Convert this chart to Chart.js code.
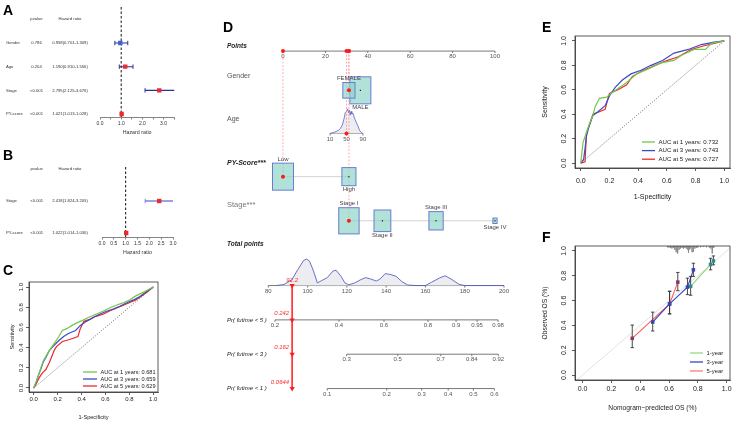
<!DOCTYPE html>
<html>
<head>
<meta charset="utf-8">
<title>Nomogram figure</title>
<script src="https://cdn.jsdelivr.net/npm/chart.js@4.4.1/dist/chart.umd.min.js"></script>
<style>
  body { margin: 0; background: #fff; }
  #fig { position: relative; width: 735px; height: 421px; overflow: hidden; background: #fff;
         font-family: "Liberation Sans", Arial, sans-serif; }
  #fig canvas { position: absolute; }
  .tag { position: absolute; font-size: 14px; line-height: 14px; font-weight: bold; color: #000; }
</style>
</head>
<body>
<div id="fig">
  <canvas id="cA" width="200" height="140" style="left:0;top:0"></canvas>
  <canvas id="cB" width="200" height="120" style="left:0;top:140px"></canvas>
  <canvas id="cC" width="175" height="159" style="left:0;top:262px"></canvas>
  <canvas id="cD" width="330" height="421" style="left:200px;top:0"></canvas>
  <canvas id="cE" width="200" height="185" style="left:535px;top:25px"></canvas>
  <canvas id="cF" width="200" height="186" style="left:535px;top:235px"></canvas>
  <div class="tag" style="left:3px;top:3px">A</div>
  <div class="tag" style="left:3px;top:148px">B</div>
  <div class="tag" style="left:3px;top:263px">C</div>
  <div class="tag" style="left:223px;top:20px">D</div>
  <div class="tag" style="left:542px;top:20px">E</div>
  <div class="tag" style="left:542px;top:230px">F</div>
</div>
<script>
// ---------- datos: panel A (Cox univariante) ----------
const aVars = ['Gender', 'Age', 'Stage', 'PY-score'];
const aPval = ['0.786', '0.204', '<0.001', '<0.001'];
const aHR = [0.958, 1.190, 2.795, 1.021];
const aLo = [0.701, 0.910, 2.125, 1.013];
const aHi = [1.309, 1.556, 3.676, 1.028];
const aTicks = [0, 0.5, 1, 1.5, 2, 2.5, 3, 3.5];
const aTickLabels = ['0.0', '', '1.0', '', '2.0', '', '3.0', ''];

// ---------- datos: panel B (Cox multivariante) ----------
const bVars = ['Stage', 'PY-score'];
const bPval = ['<0.001', '<0.001'];
const bHR = [2.418, 1.022];
const bLo = [1.824, 1.014];
const bHi = [3.205, 1.030];
const bTicks = [0, 0.5, 1, 1.5, 2, 2.5, 3];
const bTickLabels = ['0.0', '0.5', '1.0', '1.5', '2.0', '2.5', '3.0'];

// ---------- datos: panel C (ROC, entrenamiento) ----------
const cX1 = [0, 0.02, 0.04, 0.06, 0.08, 0.10, 0.13, 0.17, 0.21, 0.24, 0.28, 0.32, 0.37, 0.41, 0.46, 0.52, 0.58, 0.63, 0.69, 0.74, 0.80, 0.85, 0.92, 1];
const cY1 = [0, 0.06, 0.13, 0.20, 0.27, 0.31, 0.37, 0.44, 0.51, 0.57, 0.59, 0.62, 0.65, 0.67, 0.70, 0.73, 0.76, 0.79, 0.82, 0.84, 0.87, 0.91, 0.95, 1];
const cX3 = [0, 0.02, 0.04, 0.06, 0.08, 0.10, 0.13, 0.16, 0.21, 0.25, 0.29, 0.35, 0.39, 0.44, 0.50, 0.55, 0.61, 0.66, 0.72, 0.77, 0.83, 0.88, 0.94, 1];
const cY3 = [0, 0.06, 0.13, 0.19, 0.26, 0.30, 0.37, 0.41, 0.47, 0.51, 0.54, 0.57, 0.62, 0.66, 0.70, 0.73, 0.76, 0.78, 0.81, 0.84, 0.87, 0.90, 0.95, 1];
const cX5 = [0, 0.02, 0.04, 0.06, 0.08, 0.10, 0.13, 0.15, 0.17, 0.19, 0.24, 0.30, 0.37, 0.39, 0.42, 0.47, 0.52, 0.58, 0.63, 0.71, 0.79, 0.85, 0.90, 0.95, 1];
const cY5 = [0, 0.04, 0.09, 0.13, 0.16, 0.18, 0.25, 0.31, 0.37, 0.41, 0.46, 0.48, 0.51, 0.59, 0.66, 0.68, 0.71, 0.73, 0.76, 0.80, 0.84, 0.87, 0.91, 0.95, 1];
const cAuc = [0.681, 0.659, 0.629];

// ---------- datos: panel E (ROC, validación) ----------
const eX1 = [0, 0.016, 0.04, 0.06, 0.085, 0.10, 0.13, 0.18, 0.21, 0.26, 0.32, 0.39, 0.47, 0.56, 0.65, 0.70, 0.79, 0.87, 0.91, 1];
const eY1 = [0, 0.17, 0.25, 0.32, 0.39, 0.46, 0.53, 0.54, 0.57, 0.61, 0.66, 0.73, 0.77, 0.82, 0.84, 0.88, 0.93, 0.93, 0.98, 1];
const eX3 = [0, 0.02, 0.03, 0.04, 0.06, 0.085, 0.12, 0.17, 0.20, 0.24, 0.29, 0.35, 0.42, 0.49, 0.57, 0.65, 0.75, 0.84, 0.93, 1];
const eY3 = [0, 0.03, 0.12, 0.22, 0.31, 0.39, 0.42, 0.47, 0.55, 0.62, 0.68, 0.73, 0.76, 0.80, 0.84, 0.90, 0.93, 0.97, 0.99, 1];
const eX5 = [0, 0.03, 0.04, 0.06, 0.085, 0.13, 0.17, 0.19, 0.20, 0.26, 0.32, 0.36, 0.42, 0.50, 0.58, 0.68, 0.77, 0.86, 0.93, 1];
const eY5 = [0, 0.01, 0.25, 0.31, 0.40, 0.42, 0.44, 0.53, 0.57, 0.60, 0.64, 0.71, 0.75, 0.79, 0.83, 0.87, 0.93, 0.96, 0.98, 1];
const eAuc = [0.732, 0.743, 0.727];

const rocTicks = [0, 0.2, 0.4, 0.6, 0.8, 1];
const rocTickLabels = ['0.0', '0.2', '0.4', '0.6', '0.8', '1.0'];

// ---------- datos: panel F (calibración) ----------
const fPred1 = [0.750, 0.888, 0.908];
const fObs1 = [0.715, 0.891, 0.920];
const fLo1 = [0.643, 0.848, 0.888];
const fHi1 = [0.795, 0.941, 0.960];
const fPred3 = [0.487, 0.604, 0.728, 0.769];
const fObs3 = [0.427, 0.573, 0.709, 0.848];
const fLo3 = [0.355, 0.493, 0.648, 0.795];
const fHi3 = [0.507, 0.675, 0.781, 0.901];
const fPred5 = [0.345, 0.604, 0.661];
const fObs5 = [0.296, 0.573, 0.749];
const fLo5 = [0.221, 0.493, 0.680];
const fHi5 = [0.403, 0.675, 0.827];
const rugX = [0.59, 0.60, 0.61, 0.62, 0.63, 0.64, 0.65, 0.66, 0.67, 0.68, 0.69, 0.70, 0.71, 0.72, 0.73, 0.735, 0.74, 0.75, 0.76, 0.77, 0.78, 0.79, 0.80, 0.82, 0.84, 0.86, 0.88, 0.89, 0.90, 0.91];
const rugH = [0.01, 0.012, 0.015, 0.02, 0.015, 0.03, 0.05, 0.06, 0.03, 0.02, 0.015, 0.02, 0.015, 0.02, 0.03, 0.055, 0.03, 0.02, 0.05, 0.045, 0.02, 0.015, 0.012, 0.01, 0.008, 0.01, 0.012, 0.02, 0.06, 0.015];
const fYears = ['1-year', '3-year', '5-year'];

// ---------- datos: panel D (nomograma) ----------
const ptsTicks = [0, 20, 40, 60, 80, 100];
const genderLevels = ['FEMALE', 'MALE'];
const genderPts = [31.1, 36.5];
const genderFreq = [0.58, 1.0];
const ageTicks = [10, 50, 90];
const ageTickPts = [22.2, 29.95, 37.7];
const ageDensX = [10, 20, 30, 35, 40, 44, 47, 50, 53, 55, 57, 59, 61, 63, 66, 70, 74, 78, 82, 86, 90];
const ageDensY = [0, 0.05, 0.12, 0.2, 0.35, 0.6, 0.85, 0.9, 1.0, 0.85, 0.95, 0.75, 0.9, 0.8, 0.82, 0.6, 0.45, 0.3, 0.12, 0.04, 0];
const pyLevels = ['Low', 'High'];
const pyPts = [0, 31.1];
const pyFreq = [1.0, 0.67];
const stageLevels = ['Stage I', 'Stage II', 'Stage III', 'Stage IV'];
const stagePts = [31.1, 46.9, 72.2, 100];
const stageFreq = [0.97, 0.8, 0.68, 0.2];
const totalTicks = [80, 100, 120, 140, 160, 180, 200];
const totDensX = [84, 88, 92, 95, 98, 99.5, 101, 103, 105, 107, 110, 113, 114.5, 117, 119, 121, 124, 127, 129.5, 132, 135, 137, 139.5, 142, 145, 148, 151, 155, 160, 163, 167, 170, 173, 177, 180, 200];
const totDensY = [0, 0.04, 0.22, 0.6, 0.95, 1.0, 0.92, 0.55, 0.1, 0.18, 0.3, 0.55, 0.58, 0.35, 0.1, 0.03, 0.1, 0.22, 0.3, 0.25, 0.17, 0.25, 0.45, 0.42, 0.35, 0.15, 0.02, 0, 0, 0.12, 0.28, 0.37, 0.25, 0.05, 0, 0];
const pr5Labels = ['0.2', '0.4', '0.6', '0.8', '0.9', '0.95', '0.98'];
const pr5Tot = [83.4, 116, 138.9, 161.3, 175.6, 186.3, 197];
const pr3Labels = ['0.3', '0.5', '0.7', '0.84', '0.92'];
const pr3Tot = [119.9, 145.9, 167.8, 183.6, 197.1];
const pr1Labels = ['0.1', '0.2', '0.3', '0.4', '0.5', '0.6'];
const pr1Tot = [110, 140.3, 158.1, 171.6, 184.4, 195.1];
// paciente marcado: mujer, 50 años, PY-score bajo, estadio I
const selPts = [31.1, 29.95, 0, 31.1];
const selPr = ['0.242', '0.162', '0.0644'];

// ---------- estilo general ----------
const FONT = '"Liberation Sans", Arial, sans-serif';
Chart.defaults.font.family = FONT;
Chart.defaults.color = '#222';
Chart.defaults.animation = false;
Chart.defaults.responsive = false;
Chart.defaults.events = [];
Chart.defaults.plugins.legend.display = false;
Chart.defaults.plugins.tooltip.enabled = false;
Chart.defaults.elements.point.radius = 0;

const RED = '#f0272d', BLUE = '#3a4cc4', GREEN = '#72c84a';

function fixTicks(vals) {
  return s => { s.ticks = vals.map(v => ({ value: v })); };
}

// ---------- forest plot (A y B) ----------
const forestText = {
  id: 'forestText',
  afterDraw(chart, args, o) {
    const { ctx } = chart;
    const y = chart.scales.y;
    ctx.save();
    ctx.fillStyle = '#333';
    ctx.textBaseline = 'middle';
    ctx.font = o.size + 'px ' + FONT;
    ctx.textAlign = 'center';
    const y0 = y.getPixelForValue(0);
    ctx.fillText('pvalue', o.colP, y0);
    ctx.fillText('Hazard ratio', o.colHR, y0);
    o.vars.forEach((v, i) => {
      const py = y.getPixelForValue(i + 1);
      ctx.textAlign = 'left';
      ctx.fillText(v, o.colV, py);
      ctx.textAlign = 'center';
      ctx.fillText(o.pv[i], o.colP, py);
      ctx.fillText(o.hr[i].toFixed(3) + '(' + o.lo[i].toFixed(3) + '-' + o.hi[i].toFixed(3) + ')', o.colHR, py);
    });
    ctx.restore();
  }
};

function forest(id, vars, pv, hr, lo, hi, ticks, labels, o) {
  const datasets = [];
  datasets.push({
    type: 'line', data: [{ x: 1, y: o.ymin }, { x: 1, y: o.ymax }],
    borderColor: '#111', borderWidth: 1, borderDash: [2.5, 2], order: 3
  });
  vars.forEach((v, i) => {
    datasets.push({
      type: 'line', data: [{ x: lo[i], y: i + 1 }, { x: hi[i], y: i + 1 }],
      borderColor: o.ci, borderWidth: o.ciW,
      pointStyle: 'line', rotation: 90, pointRadius: 2.2,
      pointBorderColor: o.ci, pointBorderWidth: 1, order: 2
    });
  });
  datasets.push({
    data: hr.map((h, i) => ({ x: h, y: i + 1 })),
    pointStyle: 'rect', pointRadius: 3.1, pointBorderWidth: 0,
    pointBackgroundColor: c => (hr[c.dataIndex] > 1 ? RED : '#3f5fd6'), order: 1
  });
  return new Chart(document.getElementById(id), {
    type: 'scatter',
    data: { datasets },
    options: {
      layout: { padding: { left: o.left, right: o.w - o.right, top: o.top, bottom: 0 } },
      scales: {
        x: {
          type: 'linear', min: 0, max: ticks[ticks.length - 1],
          afterBuildTicks: fixTicks(ticks),
          afterFit: s => { s.height = o.h - o.bottom; },
          ticks: { callback: (v, i) => labels[i], font: { size: 5 }, color: '#333', padding: 1, maxRotation: 0, autoSkip: false },
          grid: { drawOnChartArea: false, tickLength: 2.5, color: '#666', lineWidth: 0.8 },
          border: { color: '#666', width: 0.8 },
          title: { display: true, text: 'Hazard ratio', font: { size: 5.3 }, color: '#333', padding: { top: 0, bottom: 4 } }
        },
        y: { type: 'linear', min: o.ymin, max: o.ymax, reverse: true, display: false }
      },
      plugins: {
        forestText: { vars, pv, hr, lo, hi, size: 4.2, colV: 6, colP: o.colP, colHR: o.colHR }
      }
    },
    plugins: [forestText]
  });
}

forest('cA', aVars, aPval, aHR, aLo, aHi, aTicks, aTickLabels,
  { w: 200, h: 140, left: 100, right: 174.2, top: 7, bottom: 117, ymin: -0.52, ymax: 4.125,
    ci: '#2b2f9a', ciW: 1.1, colP: 36.5, colHR: 70 });
forest('cB', bVars, bPval, bHR, bLo, bHi, bTicks, bTickLabels,
  { w: 200, h: 120, left: 102, right: 173, top: 27, bottom: 97, ymin: -0.063, ymax: 2.125,
    ci: '#7f82d4', ciW: 1.4, colP: 36.7, colHR: 70 });

// ---------- gráficos estilo R (C, E, F) ----------
const rFrame = {
  id: 'rFrame',
  afterDraw(chart, args, o) {
    const { ctx, chartArea: a } = chart;
    const y = chart.scales.y;
    ctx.save();
    ctx.strokeStyle = '#333';
    ctx.lineWidth = 0.8;
    ctx.strokeRect(a.left, a.top, a.right - a.left, a.bottom - a.top);
    // etiquetas del eje y giradas, como en R
    ctx.fillStyle = '#222';
    ctx.font = o.tick + 'px ' + FONT;
    ctx.textAlign = 'center';
    ctx.textBaseline = 'middle';
    rocTicks.forEach((v, i) => {
      ctx.save();
      ctx.translate(o.yLabX, y.getPixelForValue(v));
      ctx.rotate(-Math.PI / 2);
      ctx.fillText(rocTickLabels[i], 0, 0);
      ctx.restore();
    });
    // leyenda
    ctx.font = o.legFont + 'px ' + FONT;
    ctx.textAlign = 'left';
    o.items.forEach((it, i) => {
      const ly = o.legY + i * o.legDy;
      ctx.strokeStyle = it.color;
      ctx.lineWidth = 1.3;
      ctx.beginPath();
      ctx.moveTo(o.legX, ly);
      ctx.lineTo(o.legX + o.legLen, ly);
      ctx.stroke();
      ctx.fillStyle = '#222';
      ctx.fillText(it.text, o.legX + o.legLen + 3.5, ly);
    });
    ctx.restore();
  }
};

function rPlot(id, datasets, o) {
  return new Chart(document.getElementById(id), {
    type: 'scatter',
    data: { datasets },
    options: {
      layout: { padding: { left: 0, right: o.w - o.right, top: o.top, bottom: 0 } },
      scales: {
        x: {
          type: 'linear', min: o.xmin, max: o.xmax,
          afterBuildTicks: fixTicks(rocTicks),
          afterFit: s => { s.height = o.h - o.bottom; },
          ticks: { callback: (v, i) => rocTickLabels[i], font: { size: o.tick }, color: '#222', padding: o.xPad, maxRotation: 0, autoSkip: false },
          grid: { drawOnChartArea: false, tickLength: 3, color: '#333', lineWidth: 0.8, offset: false },
          border: { color: '#333', width: 0.8 },
          title: { display: true, text: o.xTitle, font: { size: o.title }, color: '#222', padding: { top: 0, bottom: o.xTitlePad } }
        },
        y: {
          type: 'linear', min: o.ymin, max: o.ymax,
          afterBuildTicks: fixTicks(rocTicks),
          afterFit: s => { s.width = o.left; },
          ticks: { display: false },
          grid: { drawOnChartArea: false, tickLength: 3, color: '#333', lineWidth: 0.8 },
          border: { color: '#333', width: 0.8 },
          title: { display: true, text: o.yTitle, font: { size: o.title }, color: '#222', padding: { top: o.yTitlePad, bottom: 0 } }
        }
      },
      plugins: { rFrame: o.frame }
    },
    plugins: [rFrame]
  });
}

function xy(xs, ys) { return xs.map((x, i) => ({ x, y: ys[i] })); }
function rocLine(xs, ys, color) {
  return { data: xy(xs, ys), showLine: true, borderColor: color, borderWidth: 1.2, pointRadius: 0 };
}
const diagDotted = { data: [{ x: 0, y: 0 }, { x: 1, y: 1 }], showLine: true, borderColor: '#444', borderWidth: 0.8, borderDash: [1, 1.6] };
const years = [1, 3, 5];

rPlot('cC', [rocLine(cX1, cY1, GREEN), rocLine(cX3, cY3, BLUE), rocLine(cX5, cY5, RED), diagDotted], {
  w: 175, h: 159, left: 29, right: 158, top: 20, bottom: 130,
  xmin: -0.04, xmax: 1.04, ymin: -0.04, ymax: 1.05,
  tick: 6, title: 5.6, xPad: 1, xTitlePad: 0.6, yTitlePad: 8.6,
  xTitle: '1-Specificity', yTitle: 'Sensitivity',
  frame: {
    tick: 6, yLabX: 21, legFont: 5.6, legX: 83, legY: 110, legDy: 7, legLen: 14,
    items: cAuc.map((a, i) => ({ text: 'AUC at ' + years[i] + ' years: ' + a.toFixed(3), color: [GREEN, BLUE, RED][i] }))
  }
});

rPlot('cE', [rocLine(eX1, eY1, GREEN), rocLine(eX3, eY3, BLUE), rocLine(eX5, eY5, RED), diagDotted], {
  w: 200, h: 185, left: 40, right: 195, top: 11, bottom: 143,
  xmin: -0.04, xmax: 1.04, ymin: -0.04, ymax: 1.04,
  tick: 7, title: 7, xPad: 5.5, xTitlePad: 8.8, yTitlePad: 6.3,
  xTitle: '1-Specificity', yTitle: 'Sensitivity',
  frame: {
    tick: 7, yLabX: 29, legFont: 6.1, legX: 107, legY: 117, legDy: 8.6, legLen: 13,
    items: eAuc.map((a, i) => ({ text: 'AUC at ' + years[i] + ' years: ' + a.toFixed(3), color: [GREEN, BLUE, RED][i] }))
  }
});

// calibración
function gapSegments(xs, y0s, y1s) {
  const out = [];
  xs.forEach((x, i) => { out.push({ x, y: y0s[i] }, { x, y: y1s[i] }, { x, y: null }); });
  return out;
}
const allPred = fPred1.concat(fPred3, fPred5);
const allLo = fLo1.concat(fLo3, fLo5);
const allHi = fHi1.concat(fHi3, fHi5);
const fDatasets = [
  { data: xy(fPred1, fObs1), pointStyle: 'rect', pointRadius: 2.5, pointBackgroundColor: '#2e8a8c', pointBorderWidth: 0, order: 1 },
  { data: xy(fPred3, fObs3), pointStyle: 'rect', pointRadius: 2.5, pointBackgroundColor: '#3546b8', pointBorderWidth: 0, order: 1 },
  { data: xy(fPred5, fObs5), pointStyle: 'rect', pointRadius: 2.5, pointBackgroundColor: '#8e3568', pointBorderWidth: 0, order: 1 },
  { data: allPred.map((x, i) => ({ x, y: allLo[i] })).concat(allPred.map((x, i) => ({ x, y: allHi[i] }))),
    pointStyle: 'line', pointRadius: 1.7, pointBorderColor: '#333', pointBorderWidth: 0.9, order: 2 },
  { type: 'line', data: gapSegments(allPred, allLo, allHi), borderColor: '#333', borderWidth: 0.9, order: 2 },
  { type: 'line', data: xy(fPred1, fObs1), borderColor: '#8fd47a', borderWidth: 1.1, order: 3 },
  { type: 'line', data: xy(fPred3, fObs3), borderColor: '#3346c2', borderWidth: 1.1, order: 3 },
  { type: 'line', data: xy(fPred5, fObs5), borderColor: '#ff5a5a', borderWidth: 1.1, order: 3 },
  { type: 'line', data: gapSegments(rugX, rugX.map(() => 1.04), rugX.map((x, i) => 1.04 - rugH[i])), borderColor: '#8a8a8a', borderWidth: 0.8, order: 4 },
  { type: 'line', data: [{ x: -0.06, y: -0.06 }, { x: 1.05, y: 1.05 }], borderColor: '#dedede', borderWidth: 0.9, order: 5 }
];
rPlot('cF', fDatasets, {
  w: 200, h: 186, left: 40, right: 195, top: 11, bottom: 145,
  xmin: -0.052, xmax: 1.023, ymin: -0.04, ymax: 1.04,
  tick: 7, title: 6.7, xPad: 1.5, xTitlePad: 9, yTitlePad: 5.8,
  xTitle: 'Nomogram\u2212predicted OS (%)', yTitle: 'Observed OS (%)',
  frame: {
    tick: 7, yLabX: 29.5, legFont: 5.9, legX: 155, legY: 118, legDy: 9, legLen: 13,
    items: fYears.map((t, i) => ({ text: t, color: ['#9ad88a', '#3346c2', '#ff7a7a'][i] }))
  }
});

// ---------- nomograma (D) ----------
// filas del nomograma (posición vertical en el lienzo)
const rowY = { points: 48, gender: 88, age: 132, py: 176, stage: 221, total: 287, pr5: 322, pr3: 357, pr1: 392 };
const rowLab = [
  { t: 'Points', y: 43, f: 'italic bold 6.5px ' },
  { t: 'Gender', y: 73, f: '7px ', c: '#555' },
  { t: 'Age', y: 117, f: '7px ', c: '#555' },
  { t: 'PY-Score***', y: 162, f: 'italic bold 7px ' },
  { t: 'Stage***', y: 205, f: '7.5px ', c: '#777' },
  { t: 'Total points', y: 245, f: 'italic bold 6.5px ' },
  { t: 'Pr( futime < 5 )', y: 322, f: 'italic 6px ' },
  { t: 'Pr( futime < 3 )', y: 357, f: 'italic 6px ' },
  { t: 'Pr( futime < 1 )', y: 392, f: 'italic 6px ' }
];
const ageToPts = a => ageTickPts[0] + (a - ageTicks[0]) * (ageTickPts[2] - ageTickPts[0]) / (ageTicks[2] - ageTicks[0]);
const selRows = [rowY.gender, rowY.age, rowY.py, rowY.stage];
const selTotal = selPts.reduce((s, v) => s + v, 0);

function hAxis(ctx, sc, ys, vals, labels) {
  ctx.strokeStyle = '#6a6a6a';
  ctx.lineWidth = 0.9;
  ctx.beginPath();
  ctx.moveTo(sc.getPixelForValue(vals[0]), ys);
  ctx.lineTo(sc.getPixelForValue(vals[vals.length - 1]), ys);
  ctx.stroke();
  ctx.fillStyle = '#555';
  ctx.font = '6px ' + FONT;
  ctx.textAlign = 'center';
  ctx.textBaseline = 'top';
  vals.forEach((v, i) => {
    const px = sc.getPixelForValue(v);
    ctx.beginPath();
    ctx.moveTo(px, ys);
    ctx.lineTo(px, ys + 2);
    ctx.stroke();
    ctx.fillText(labels[i], px, ys + 2.6);
  });
}

function drawBoxes(chart) {
  const { ctx } = chart;
  const xp = chart.scales.xp, y = chart.scales.y;
  const groups = [
    { lv: genderLevels, pts: genderPts, fr: genderFreq, row: rowY.gender, sel: 0, drawOrder: [1, 0] },
    { lv: pyLevels, pts: pyPts, fr: pyFreq, row: rowY.py, sel: 0, drawOrder: [0, 1] },
    { lv: stageLevels, pts: stagePts, fr: stageFreq, row: rowY.stage, sel: 0, drawOrder: [0, 1, 2, 3] }
  ];
  ctx.save();
  groups.forEach(g => {
    const cy = y.getPixelForValue(g.row);
    g.drawOrder.forEach(i => {
      const cx = xp.getPixelForValue(g.pts[i]);
      const w = 21 * g.fr[i], h = 27 * g.fr[i];
      ctx.fillStyle = 'rgba(140,212,200,0.68)';
      ctx.fillRect(cx - w / 2, cy - h / 2, w, h);
      ctx.strokeStyle = '#6b7bd0';
      ctx.lineWidth = 1;
      ctx.strokeRect(cx - w / 2, cy - h / 2, w, h);
      if (i !== g.sel) {
        ctx.fillStyle = '#111';
        ctx.fillRect(cx - 0.6, cy - 0.6, 1.2, 1.2);
      }
      ctx.fillStyle = '#444';
      ctx.font = '6px ' + FONT;
      ctx.textAlign = 'center';
      if (i % 2 === 0) {
        ctx.textBaseline = 'bottom';
        ctx.fillText(g.lv[i], cx, cy - h / 2 - 1);
      } else {
        ctx.textBaseline = 'top';
        ctx.fillText(g.lv[i], cx, cy + h / 2 + 1);
      }
    });
  });
  ctx.restore();
}

const nomo = {
  id: 'nomo',
  beforeDatasetsDraw(chart) {
    const { ctx } = chart;
    const xt = chart.scales.x, xp = chart.scales.xp, y = chart.scales.y;
    ctx.save();
    hAxis(ctx, xp, y.getPixelForValue(rowY.points), ptsTicks, ptsTicks.map(String));
    hAxis(ctx, xp, y.getPixelForValue(rowY.age), ageTickPts, ageTicks.map(String));
    hAxis(ctx, xt, y.getPixelForValue(rowY.total), totalTicks, totalTicks.map(String));
    hAxis(ctx, xt, y.getPixelForValue(rowY.pr5), pr5Tot, pr5Labels);
    hAxis(ctx, xt, y.getPixelForValue(rowY.pr3), pr3Tot, pr3Labels);
    hAxis(ctx, xt, y.getPixelForValue(rowY.pr1), pr1Tot, pr1Labels);
    ctx.textAlign = 'left';
    ctx.textBaseline = 'middle';
    rowLab.forEach(r => {
      ctx.font = r.f + FONT;
      ctx.fillStyle = r.c || '#222';
      ctx.fillText(r.t, 27, y.getPixelForValue(r.y));
    });
    ctx.restore();
  },
  afterDatasetDraw(chart, args) {
    if (chart.data.datasets[args.index].label === 'dash') drawBoxes(chart);
  },
  afterDraw(chart) {
    const { ctx } = chart;
    const xt = chart.scales.x, y = chart.scales.y;
    const lx = xt.getPixelForValue(selTotal);
    ctx.save();
    ctx.fillStyle = '#ff2a2a';
    ctx.font = 'italic 6px ' + FONT;
    ctx.textBaseline = 'middle';
    ctx.textAlign = 'center';
    ctx.fillText(selTotal.toFixed(1), lx, y.getPixelForValue(rowY.total) - 5.5);
    ctx.textAlign = 'right';
    [rowY.pr5, rowY.pr3, rowY.pr1].forEach((r, i) => {
      ctx.fillText(selPr[i], lx - 3, y.getPixelForValue(r) - 6.5);
    });
    ctx.restore();
  }
};

const dashData = [];
selPts.forEach((p, i) => { dashData.push({ x: p, y: rowY.points }, { x: p, y: selRows[i] }, { x: p, y: null }); });

new Chart(document.getElementById('cD'), {
  type: 'scatter',
  data: {
    datasets: [
      { // puntos rojos seleccionados
        data: selPts.map(p => ({ x: p, y: rowY.points })).concat(selPts.map((p, i) => ({ x: p, y: selRows[i] }))),
        xAxisID: 'xp', pointRadius: 2, pointBackgroundColor: '#ff1a1a', pointBorderWidth: 0, order: 1
      },
      { // línea del total
        type: 'line', data: [{ x: selTotal, y: rowY.total }, { x: selTotal, y: rowY.pr1 }],
        xAxisID: 'x', borderColor: '#ff3333', borderWidth: 1, order: 2
      },
      { // triángulos del total y de las probabilidades
        data: [rowY.total, rowY.pr5, rowY.pr3, rowY.pr1].map(r => ({ x: selTotal, y: r })),
        xAxisID: 'x', pointStyle: 'triangle', rotation: 180, pointRadius: 3,
        pointBackgroundColor: '#ff1a1a', pointBorderWidth: 0, order: 1.5
      },
      { // densidad de la edad
        type: 'line', data: ageDensX.map((a, i) => ({ x: ageToPts(a), y: rowY.age - ageDensY[i] * 25 })),
        xAxisID: 'xp', fill: { value: rowY.age }, backgroundColor: '#ececf1',
        borderColor: '#5a60c6', borderWidth: 0.8, order: 7
      },
      { // densidad de los puntos totales
        type: 'line', data: totDensX.map((t, i) => ({ x: t, y: rowY.total - totDensY[i] * 27 })),
        xAxisID: 'x', fill: { value: rowY.total }, backgroundColor: '#ececf1',
        borderColor: '#5a60c6', borderWidth: 0.9, order: 7
      },
      { // líneas discontinuas rojas
        label: 'dash', type: 'line', data: dashData, xAxisID: 'xp',
        borderColor: '#ff8a8a', borderWidth: 0.7, borderDash: [2, 1.5], order: 5
      },
      { // líneas grises que unen los niveles
        type: 'line', xAxisID: 'xp',
        data: [{ x: pyPts[0], y: rowY.py }, { x: pyPts[pyPts.length - 1], y: rowY.py }, { x: 0, y: null },
               { x: stagePts[0], y: rowY.stage }, { x: stagePts[stagePts.length - 1], y: rowY.stage }],
        borderColor: '#d2d2d2', borderWidth: 1, order: 6
      }
    ]
  },
  options: {
    layout: { padding: { left: 68.3, right: 26, top: 0, bottom: 0 } },
    scales: {
      x: { type: 'linear', min: 80, max: 200, display: false },
      xp: { type: 'linear', axis: 'x', min: -6.93, max: 104.25, display: false },
      y: { type: 'linear', min: 0, max: 421, reverse: true, display: false }
    }
  },
  plugins: [nomo]
});
</script>
</body>
</html>
